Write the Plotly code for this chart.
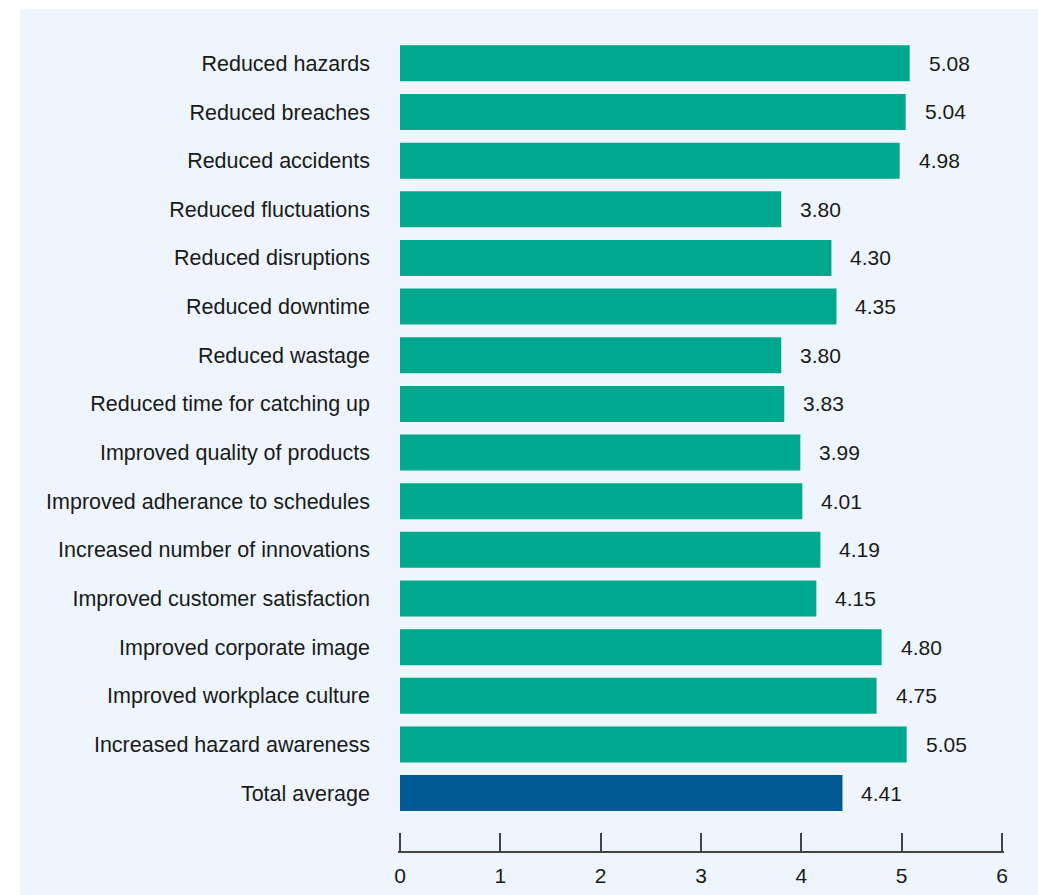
import plotly.graph_objects as go

categories = [
    "Reduced hazards", "Reduced breaches", "Reduced accidents", "Reduced fluctuations",
    "Reduced disruptions", "Reduced downtime", "Reduced wastage", "Reduced time for catching up",
    "Improved quality of products", "Improved adherance to schedules",
    "Increased number of innovations", "Improved customer satisfaction",
    "Improved corporate image", "Improved workplace culture", "Increased hazard awareness",
    "Total average",
]
values = [5.08, 5.04, 4.98, 3.80, 4.30, 4.35, 3.80, 3.83, 3.99, 4.01, 4.19, 4.15, 4.80, 4.75, 5.05, 4.41]
x_ticks = [0, 1, 2, 3, 4, 5, 6]

teal = "#00A88E"
navy = "#005A94"
bg = "#EEF5FC"
colors = [navy if c == "Total average" else teal for c in categories]
FONT = "Liberation Sans, Arial, Helvetica, sans-serif"

L, R, T, B = 398, 34, 39, 44
W, H = 1038, 895
pw, ph = W - L - R, H - T - B

fig = go.Figure()
fig.add_trace(go.Bar(
    x=values, y=categories, orientation="h",
    marker=dict(color=colors, line=dict(width=0)),
    hoverinfo="x+y",
))

for c, v in zip(categories, values):
    fig.add_annotation(x=v, y=c, text=f"{v:.2f}", showarrow=False,
                       xanchor="left", xshift=17,
                       font=dict(family=FONT, size=21, color="#1a1a1a"))

# light background panel (white strip on the left and top)
fig.add_shape(type="rect", xref="paper", yref="paper",
              x0=(20 - L) / pw, x1=2, y0=-1, y1=(H - B - 9) / ph,
              fillcolor=bg, line=dict(width=0), layer="below")

fig.update_layout(
    width=W, height=H,
    margin=dict(l=L, r=R, t=T, b=B),
    paper_bgcolor="white",
    plot_bgcolor=bg,
    bargap=0.26,
    showlegend=False,
    font=dict(family=FONT, size=21, color="#1a1a1a"),
)
fig.update_xaxes(
    range=[-0.02, 6.02], tickvals=x_ticks, ticks="inside", ticklen=18, tickwidth=1.5,
    tickcolor="#444", showline=True, linecolor="#444", linewidth=1.5,
    showgrid=False, zeroline=False, fixedrange=True, ticklabelstandoff=5,
    automargin=False,
    tickfont=dict(family=FONT, size=21, color="#1a1a1a"),
)
fig.update_yaxes(
    range=[16.19, -0.5], showgrid=False, zeroline=False, showline=False,
    ticks="", ticklabelstandoff=27, automargin=False,
    tickfont=dict(family=FONT, size=21.5, color="#1a1a1a"),
)

fig.write_html("out.html")
